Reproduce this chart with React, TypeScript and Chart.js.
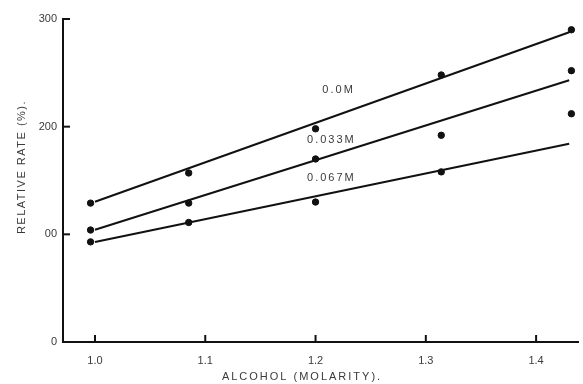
import React, { useEffect, useRef } from "react";
import { Chart, registerables } from "chart.js";

Chart.register(...registerables);

// Data
const alcoholMolarity = [0.996, 1.085, 1.2, 1.314, 1.432];
const rate00M = [129, 157, 198, 248, 290];
const rate033M = [104, 129, 170, 192, 252];
const rate067M = [93, 111, 130, 158, 212];

const fitX = [1.0, 1.43];
const fit00M = [130.3, 287.7];
const fit033M = [104.2, 243.1];
const fit067M = [92.8, 184.2];

const seriesLabels = ["0.0M", "0.033M", "0.067M"];
const labelAnchorX = [1.22, 1.2135, 1.2135];
const labelAnchorY = [234, 187.6, 152.3];

const xTickValues = [1.0, 1.1, 1.2, 1.3, 1.4];
const xTickLabels = ["1.0", "1.1", "1.2", "1.3", "1.4"];
const yTickValues = [0, 100, 200, 300];
const yTickLabels = ["0", "00", "200", "300"];

const xTitle = "ALCOHOL (MOLARITY).";
const yTitle = "RELATIVE RATE (%).";

const FONT = "'Liberation Sans', 'DejaVu Sans', sans-serif";
const INK = "#111";
const TEXT = "#3a3a3a";

const pts = (xs: number[], ys: number[]) => xs.map((x, i) => ({ x, y: ys[i] }));

const overlayPlugin = {
  id: "overlay",
  afterDraw(chart: any) {
    const ctx = chart.ctx;
    const xs = chart.scales.x;
    const ys = chart.scales.y;
    const area = chart.chartArea;
    ctx.save();
    // inward tick marks
    ctx.strokeStyle = INK;
    ctx.lineWidth = 2;
    yTickValues.forEach((v) => {
      if (v === 0) return;
      const py = ys.getPixelForValue(v);
      ctx.beginPath();
      ctx.moveTo(area.left, py);
      ctx.lineTo(area.left + 7, py);
      ctx.stroke();
    });
    xTickValues.forEach((v) => {
      const px = xs.getPixelForValue(v);
      ctx.beginPath();
      ctx.moveTo(px, area.bottom);
      ctx.lineTo(px, area.bottom - 7);
      ctx.stroke();
    });
    // series labels
    ctx.fillStyle = TEXT;
    ctx.font = `11px ${FONT}`;
    ctx.textAlign = "center";
    ctx.textBaseline = "middle";
    (ctx as any).letterSpacing = "2px";
    seriesLabels.forEach((t, i) => {
      ctx.fillText(t, xs.getPixelForValue(labelAnchorX[i]) + 1, ys.getPixelForValue(labelAnchorY[i]));
    });
    // axis titles
    ctx.fillText(xTitle, 302, 377);
    (ctx as any).letterSpacing = "1.5px";
    ctx.translate(22, 167);
    ctx.rotate(-Math.PI / 2);
    ctx.fillText(yTitle, 0, 0);
    ctx.restore();
  },
};

export default function App() {
  const ref = useRef<HTMLCanvasElement | null>(null);

  useEffect(() => {
    if (!ref.current) return;
    const lineDs = (data: number[]) => ({
      type: "line" as const,
      data: pts(fitX, data),
      borderColor: INK,
      borderWidth: 2,
      pointRadius: 0,
      showLine: true,
      fill: false,
    });
    const dotDs = (data: number[]) => ({
      type: "scatter" as const,
      data: pts(alcoholMolarity, data),
      backgroundColor: INK,
      borderColor: INK,
      pointRadius: 3.2,
      showLine: false,
    });
    const chart = new Chart(ref.current, {
      type: "scatter",
      data: {
        datasets: [
          lineDs(fit00M),
          lineDs(fit033M),
          lineDs(fit067M),
          dotDs(rate00M),
          dotDs(rate033M),
          dotDs(rate067M),
        ] as any,
      },
      options: {
        animation: false,
        responsive: false,
        maintainAspectRatio: false,
        layout: { padding: { top: 19, right: 0, left: 0, bottom: 0 } },
        plugins: { legend: { display: false }, tooltip: { enabled: false } },
        scales: {
          x: {
            type: "linear",
            min: 0.971,
            max: 1.438,
            afterFit: (s: any) => {
              s.height = 42;
            },
            afterBuildTicks: (s: any) => {
              s.ticks = xTickValues.map((v) => ({ value: v }));
            },
            grid: { display: false, drawTicks: false },
            border: { display: true, color: INK, width: 2 },
            ticks: {
              padding: 12,
              color: TEXT,
              font: { family: FONT, size: 11 },
              callback: (v: any) => {
                const i = xTickValues.findIndex((t) => Math.abs(t - Number(v)) < 1e-6);
                return i >= 0 ? xTickLabels[i] : "";
              },
            },
          },
          y: {
            type: "linear",
            min: 0,
            max: 300,
            afterFit: (s: any) => {
              s.width = 63;
            },
            afterBuildTicks: (s: any) => {
              s.ticks = yTickValues.map((v) => ({ value: v }));
            },
            grid: { display: false, drawTicks: false },
            border: { display: true, color: INK, width: 2 },
            ticks: {
              padding: 6,
              color: TEXT,
              font: { family: FONT, size: 11 },
              callback: (v: any) => {
                const i = yTickValues.indexOf(Number(v));
                return i >= 0 ? yTickLabels[i] : "";
              },
            },
          },
        },
      },
      plugins: [overlayPlugin],
    });
    return () => chart.destroy();
  }, []);

  return (
    <div style={{ position: "fixed", left: 0, top: 0, width: 583, height: 384, background: "#fff" }}>
      <canvas ref={ref} width={583} height={384} style={{ display: "block" }} />
    </div>
  );
}
